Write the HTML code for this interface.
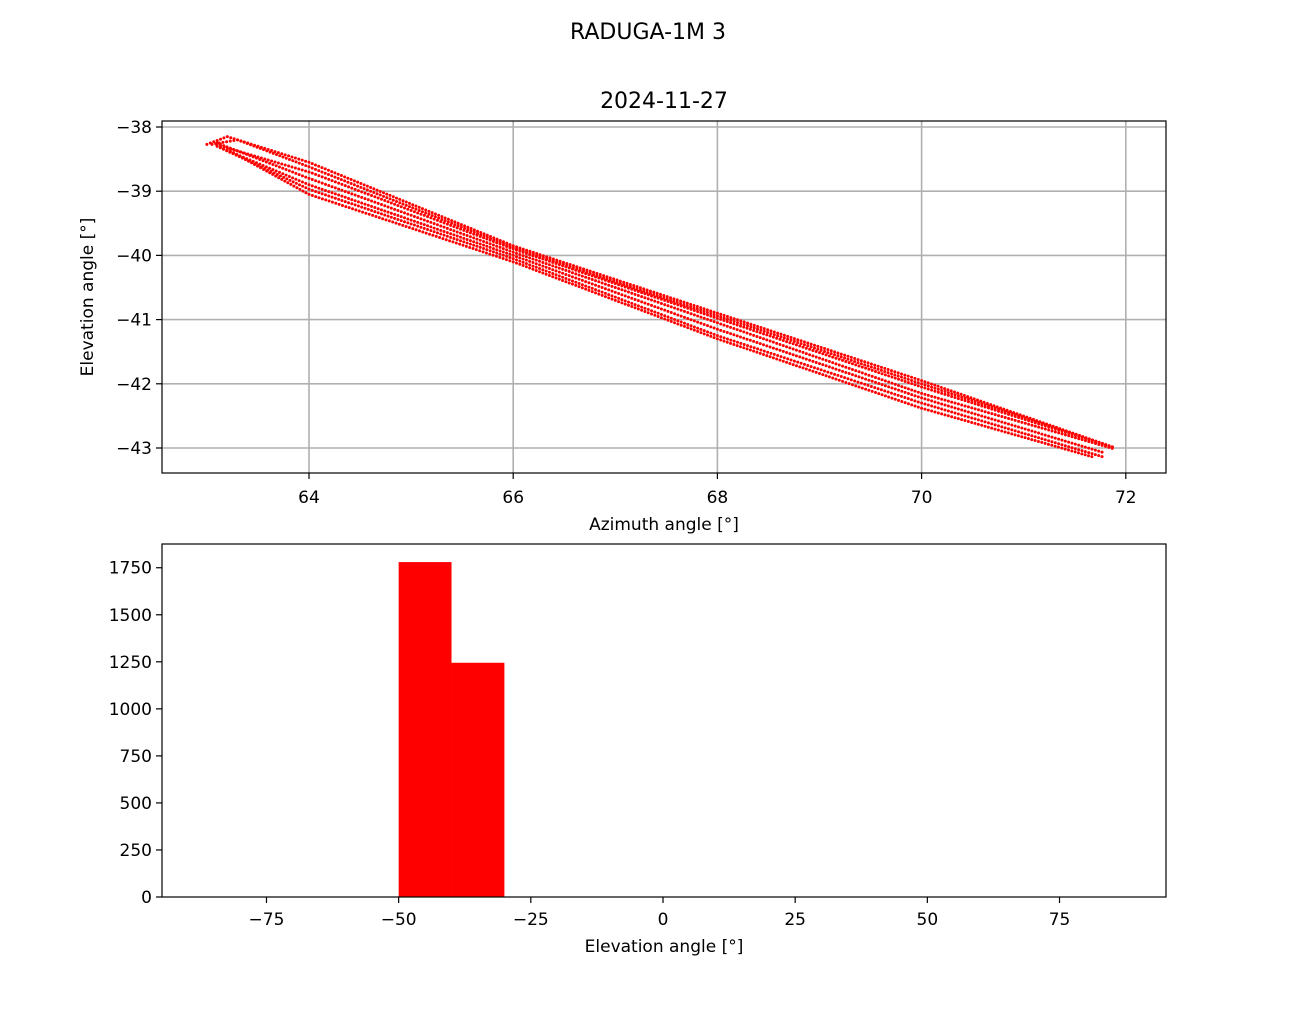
<!DOCTYPE html>
<html><head><meta charset="utf-8"><style>
body{margin:0;background:#fff;font-family:"Liberation Sans","DejaVu Sans",sans-serif}
svg text{font-family:"DejaVu Sans","Liberation Sans",sans-serif;fill:#000}
</style></head><body>
<svg id="c" width="1296" height="1008" viewBox="0 0 1296 1008">
<text x="648" y="39" font-size="22" text-anchor="middle">RADUGA-1M 3</text>
<text x="664" y="108" font-size="22" text-anchor="middle">2024-11-27</text>
<g id="topg"></g>
<g id="botg"></g>
</svg>
<script>
// Top scatter data: tracks of [azimuth, elevation]
const trackUpper=[[63.0,-38.27],[63.2,-38.15],[64,-38.55],[66,-39.85],[68,-40.9],[70,-41.95],[71.9,-43.0]];
const trackUpper2=[[63.05,-38.27],[63.3,-38.2],[64,-38.62],[66,-39.88],[68,-40.94],[70,-42.0],[71.9,-43.0]];
const trackMid=[[63.1,-38.25],[64,-38.8],[66,-39.95],[68,-41.05],[70,-42.15],[71.9,-43.02]];
const trackMid2=[[63.1,-38.28],[64,-38.7],[66,-39.9],[68,-40.98],[70,-42.05],[71.9,-43.0]];
const trackLower=[[63.1,-38.3],[64,-38.97],[66,-40.05],[68,-41.25],[70,-42.3],[71.8,-43.15]];
const trackLow2=[[63.1,-38.3],[64,-38.9],[66,-40.0],[68,-41.15],[70,-42.22],[71.8,-43.08]];
const trackLow3=[[63.2,-38.35],[64,-39.05],[66,-40.1],[68,-41.3],[70,-42.38],[71.7,-43.15]];
const tracks=[trackUpper,trackUpper2,trackMid,trackMid2,trackLower,trackLow2,trackLow3];
const xTicksTop=[64,66,68,70,72];
const yTicksTop=[-38,-39,-40,-41,-42,-43];
// Histogram data
const binEdges=[-50,-40,-30];
const binCounts=[1780,1245];
const xTicksBot=[-75,-50,-25,0,25,50,75];
const yTicksBot=[0,250,500,750,1000,1250,1500,1750];

const NS='http://www.w3.org/2000/svg';
function mk(p,t,a){const e=document.createElementNS(NS,t);for(const k in a)e.setAttribute(k,a[k]);p.appendChild(e);return e;}
const gTop=document.getElementById('topg'),gBot=document.getElementById('botg');
const L=162,R=1166,FS=17;
const xT=v=>309+(v-64)*102.1, yT=v=>127+(-38-v)*64.2;
const xB=v=>663+v*5.287, yB=v=>897-v*0.18815;

xTicksTop.forEach(v=>{const g=mk(gTop,'line',{x1:xT(v),x2:xT(v),y1:121,y2:473,stroke:'#b0b0b0','stroke-width':1.6});


mk(gTop,'line',{x1:xT(v),x2:xT(v),y1:473,y2:479,stroke:'#000','stroke-width':1.2});
const t=mk(gTop,'text',{x:xT(v),y:503,'font-size':FS,'text-anchor':'middle'});t.textContent=v;

});
yTicksTop.forEach(v=>{const g=mk(gTop,'line',{x1:L,x2:R,y1:yT(v),y2:yT(v),stroke:'#b0b0b0','stroke-width':1.6});


mk(gTop,'line',{x1:L-6,x2:L,y1:yT(v),y2:yT(v),stroke:'#000','stroke-width':1.2});
const t=mk(gTop,'text',{x:L-10,y:yT(v)+6,'font-size':FS,'text-anchor':'end'});t.textContent='\u2212'+Math.abs(v);

});
tracks.forEach(tr=>{for(let i=0;i<tr.length-1;i++){const x1=xT(tr[i][0]),y1=yT(tr[i][1]),x2=xT(tr[i+1][0]),y2=yT(tr[i+1][1]);
const n=Math.max(1,Math.round(Math.hypot(x2-x1,y2-y1)/3.5));
for(let k=0;k<n;k++){const f=k/n;const c=mk(gTop,'circle',{cx:x1+(x2-x1)*f,cy:y1+(y2-y1)*f,r:1.5,fill:'#ff0000'});

}}});
mk(gTop,'rect',{x:L,y:121,width:R-L,height:352,fill:'none',stroke:'#000','stroke-width':1.2});
let t=mk(gTop,'text',{x:664,y:530,'font-size':FS,'text-anchor':'middle'});t.textContent='Azimuth angle [°]';


t=mk(gTop,'text',{x:0,y:0,'font-size':FS,'text-anchor':'middle',transform:'translate(93,297) rotate(-90)'});t.textContent='Elevation angle [°]';



binCounts.forEach((c,i)=>{const r=mk(gBot,'rect',{x:xB(binEdges[i]),y:yB(c),width:xB(binEdges[i+1])-xB(binEdges[i]),height:yB(0)-yB(c),fill:'#ff0000'});

});
mk(gBot,'rect',{x:L,y:544,width:R-L,height:353,fill:'none',stroke:'#000','stroke-width':1.2});
xTicksBot.forEach(v=>{mk(gBot,'line',{x1:xB(v),x2:xB(v),y1:897,y2:903,stroke:'#000','stroke-width':1.2});
const t=mk(gBot,'text',{x:xB(v),y:925,'font-size':FS,'text-anchor':'middle'});t.textContent=v<0?'\u2212'+Math.abs(v):v;

});
yTicksBot.forEach(v=>{mk(gBot,'line',{x1:L-6,x2:L,y1:yB(v),y2:yB(v),stroke:'#000','stroke-width':1.2});
const t=mk(gBot,'text',{x:L-10,y:yB(v)+6,'font-size':FS,'text-anchor':'end'});t.textContent=v;

});
t=mk(gBot,'text',{x:664,y:952,'font-size':FS,'text-anchor':'middle'});t.textContent='Elevation angle [°]';


</script>
</body></html>
